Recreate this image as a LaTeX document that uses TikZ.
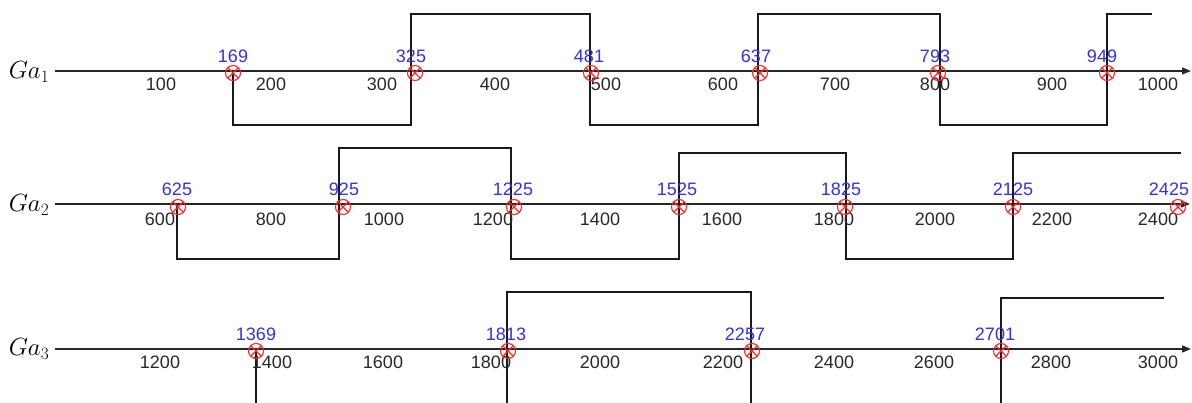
\documentclass[tikz,border=0pt]{standalone}
\usepackage{fontspec}
\setmainfont{Liberation Sans}
\usetikzlibrary{arrows.meta}
\definecolor{lblblue}{RGB}{51,51,221}
\definecolor{tickgray}{RGB}{40,40,40}
\definecolor{mkred}{RGB}{255,40,40}
\begin{document}
\begin{tikzpicture}[x=1pt,y=-1pt,
  axisline/.style={line width=1.2pt,draw=black!85,-{Triangle[length=9pt,width=7pt]}},
  wave/.style={line width=1.2pt,draw=black!90},
  ticklbl/.style={font=\fontsize{18}{21}\selectfont,text=tickgray,inner sep=0pt},
  vallbl/.style={font=\fontsize{18}{21}\selectfont,text=lblblue,inner sep=0pt},
  rowlbl/.style={font=\fontsize{23}{27}\selectfont,inner sep=0pt},
  xmarker/.style={circle,draw=mkred,line width=1.1pt,minimum size=15pt,inner sep=0pt,
    path picture={\draw[mkred,line width=1.1pt] (path picture bounding box.center) +(45:8pt) -- +(225:8pt) (path picture bounding box.center) +(135:8pt) -- +(315:8pt);}}]
\useasboundingbox (0,0) rectangle (1192,403);

% ---------- Row 1 ----------
\node[rowlbl] (g1) at (29,72) {$Ga_1$};
\coordinate (a1s) at (55,71);
\coordinate (a1e) at (1191,71);
\draw[axisline] (a1s) -- (a1e);
\draw[wave] (233,71) -- (233,125) -- (411,125) -- (411,14) -- (590,14) -- (590,125) -- (758,125) -- (758,14) -- (940,14) -- (940,125) -- (1107,125) -- (1107,14) -- (1152,14);
\foreach \v/\x in {100/161,200/271,300/382,400/495,500/606,600/723,700/835,800/935,900/1052,1000/1158}
  \node[ticklbl] (t1-\v) at (\x,84) {\v};
\foreach \v/\x/\lx in {169/233/233,325/415/411,481/591/589,637/760/756,793/938/935,949/1107/1102}{
  \node[xmarker] (m\v) at (\x,73) {};
  \node[vallbl] (l\v) at (\lx,56) {\v};
}

% ---------- Row 2 ----------
\node[rowlbl] (g2) at (29,205) {$Ga_2$};
\coordinate (a2s) at (55,204);
\coordinate (a2e) at (1190,204);
\draw[axisline] (a2s) -- (a2e);
\draw[wave] (177,204) -- (177,259) -- (339,259) -- (339,148) -- (511,148) -- (511,259) -- (679,259) -- (679,153) -- (846,153) -- (846,259) -- (1013,259) -- (1013,153) -- (1181,153);
\foreach \v/\x in {600/160,800/271,1000/384,1200/493,1400/600,1600/722,1800/834,2000/935,2200/1052,2400/1158}
  \node[ticklbl] (t2-\v) at (\x,219) {\v};
\foreach \v/\x/\lx in {625/178/177,925/343/344,1225/514/513,1525/679/677,1825/845/841,2125/1013/1013,2425/1178/1169}{
  \node[xmarker] (m\v) at (\x,207) {};
  \node[vallbl] (l\v) at (\lx,189) {\v};
}

% ---------- Row 3 ----------
\node[rowlbl] (g3) at (29,349) {$Ga_3$};
\coordinate (a3s) at (55,349);
\coordinate (a3e) at (1191,349);
\draw[axisline] (a3s) -- (a3e);
\draw[wave] (256,349) -- (256,403);
\draw[wave] (507,403) -- (507,292) -- (751,292) -- (751,403);
\draw[wave] (1001,403) -- (1001,298) -- (1164,298);
\foreach \v/\x in {1200/160,1400/272,1600/383,1800/491,2000/600,2200/723,2400/834,2600/934,2800/1051,3000/1158}
  \node[ticklbl] (t3-\v) at (\x,362) {\v};
\foreach \v/\x/\lx in {1369/256/256,1813/508/506,2257/752/745,2701/1001/995}{
  \node[xmarker] (m\v) at (\x,351) {};
  \node[vallbl] (l\v) at (\lx,334) {\v};
}
\end{tikzpicture}
\end{document}
